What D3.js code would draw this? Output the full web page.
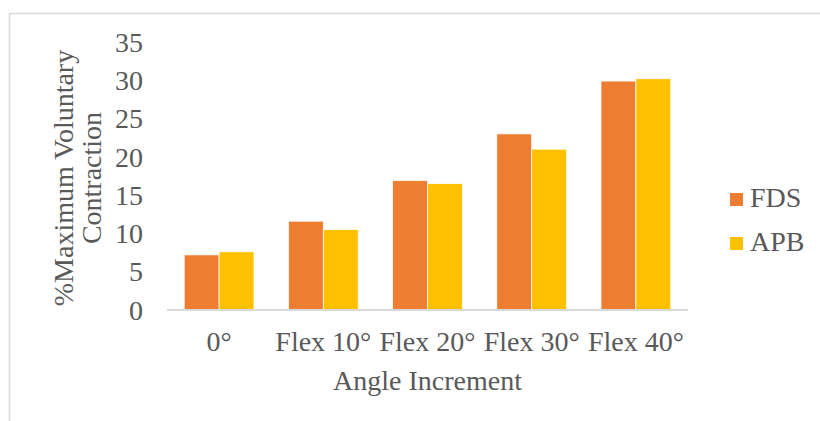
<!DOCTYPE html>
<html><head><meta charset="utf-8">
<script src="https://d3js.org/d3.v7.min.js"></script>
<style>body{margin:0;background:#fff}svg{display:block}
svg text{font-family:"Liberation Serif","Times New Roman",Tinos,serif;}</style>
</head><body>
<script>
const categories = ["0°", "Flex 10°", "Flex 20°", "Flex 30°", "Flex 40°"];
const seriesNames = ["FDS", "APB"];
const fds = [7.2, 11.6, 16.9, 23.0, 29.9];
const apb = [7.6, 10.5, 16.5, 21.0, 30.2];
const yTicks = [0, 5, 10, 15, 20, 25, 30, 35];
const colors = ["#ED7D31", "#FFC000"];

const W = 820, H = 421;
const svg = d3.select("body").append("svg").attr("width", W).attr("height", H);
const txt = "#595959";
const fs = 28;

// frame
svg.append("path").attr("d", `M9.5,${H} V13.5 H${W}`).attr("fill","none").attr("stroke","#d9d9d9").attr("stroke-width",1.5);

const plot = {l:167, r:688, t:42, b:310};
const x = d3.scaleBand().domain(categories).range([plot.l, plot.r]).paddingInner(0.33).paddingOuter(0.165);
const xs = d3.scaleBand().domain(seriesNames).range([0, x.bandwidth()]);
const y = d3.scaleLinear().domain([0, 35]).range([plot.b, plot.t]);

const data = [fds, apb];
const g = svg.append("g");
categories.forEach((c, i) => {
  seriesNames.forEach((s, j) => {
    g.append("rect")
      .attr("x", x(c) + xs(s))
      .attr("y", y(data[j][i]))
      .attr("width", xs.bandwidth())
      .attr("height", y(0) - y(data[j][i]))
      .attr("fill", colors[j])
      .attr("stroke", "#fff").attr("stroke-width", 0.75);
  });
});

// x axis
const xAxis = svg.append("g").attr("transform", `translate(0,${plot.b})`)
  .call(d3.axisBottom(x).tickSize(0).tickPadding(0));
xAxis.attr("font-family", null).attr("font-size", null);
xAxis.select(".domain").attr("stroke", "#d9d9d9").attr("stroke-width", 2).attr("d", `M${plot.l},0H${plot.r}`);
xAxis.selectAll("text").style("font-size", fs + "px").attr("fill", txt)
  .attr("dy", null).attr("y", 41);

// y axis
const yAxis = svg.append("g").attr("transform", `translate(143,0)`)
  .call(d3.axisLeft(y).tickValues(yTicks).tickSize(0).tickPadding(0));
yAxis.attr("font-family", null).attr("font-size", null);
yAxis.select(".domain").remove();
yAxis.selectAll("text").style("font-size", fs + "px").attr("fill", txt).attr("dy", "0.33em");

// axis titles
svg.append("text").attr("x", (plot.l + plot.r) / 2).attr("y", 390)
  .attr("text-anchor", "middle").style("font-size", fs + "px").attr("fill", txt)
  .text("Angle Increment");
const yt = svg.append("text").attr("transform", "translate(73,178) rotate(-90)")
  .attr("text-anchor", "middle").style("font-size", fs + "px").attr("fill", txt);
yt.append("tspan").attr("x", 0).attr("y", 0).text("%Maximum Voluntary");
yt.append("tspan").attr("x", 0).attr("y", 28).text("Contraction");

// legend
const leg = svg.append("g");
seriesNames.forEach((s, j) => {
  const yy = 193 + j * 44;
  leg.append("rect").attr("x", 730).attr("y", yy).attr("width", 13).attr("height", 13).attr("fill", colors[j]);
  leg.append("text").attr("x", 750).attr("y", yy + 14).style("font-size", fs + "px").attr("fill", txt).text(s);
});
</script>
</body></html>
